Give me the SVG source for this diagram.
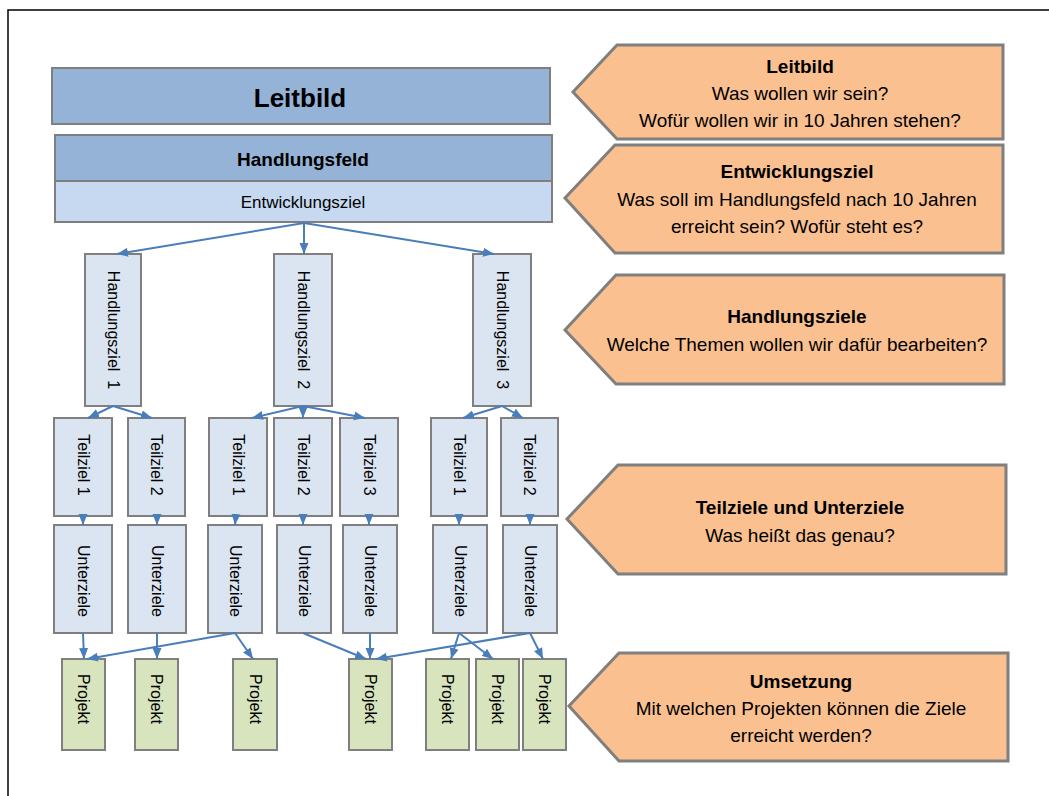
<svg xmlns="http://www.w3.org/2000/svg" width="1049" height="796" viewBox="0 0 1049 796">
<style>
text{font-family:"Liberation Sans",Arial,sans-serif;fill:#000}
.b{stroke:#7f7f7f;stroke-width:2}
.dark{fill:#95b3d7}
.mid{fill:#c6d9f1}
.lt{fill:#dbe5f1}
.pr{fill:#d7e4bd}
.tag{fill:#fac090;stroke:#7f7f7f;stroke-width:3;stroke-linejoin:miter}
.vt{font-size:16px;text-anchor:middle;dominant-baseline:central}
.t{font-size:19px;text-anchor:middle}
.bold{font-weight:bold}
#connectors line{stroke:#4a7ebb;stroke-width:2;marker-end:url(#ah)}
</style>
<defs>
<marker id="ah" markerUnits="userSpaceOnUse" markerWidth="12" markerHeight="10" refX="11" refY="5" orient="auto">
<path d="M0,0.5 L11,5 L0,9.5 z" fill="#4a7ebb"/>
</marker>
</defs>
<rect width="1049" height="796" fill="#fff"/>
<path d="M8,796 V10 H1049" fill="none" stroke="#000" stroke-width="1.5"/>

<g id="leitbild">
<rect class="b dark" x="52" y="68" width="498" height="56"/>
<text x="300" y="107" font-size="26" font-weight="bold" text-anchor="middle">Leitbild</text>
</g>
<g id="handlungsfeld">
<rect class="b dark" x="55" y="135" width="497" height="46"/>
<text x="303" y="166" font-size="19" font-weight="bold" text-anchor="middle">Handlungsfeld</text>
</g>
<g id="entwicklungsziel">
<rect class="b mid" x="55" y="181" width="497" height="41"/>
<text x="303" y="208" font-size="17" text-anchor="middle">Entwicklungsziel</text>
</g>

<g id="hz1"><rect class="b lt" x="85" y="254" width="56" height="152"/><text class="vt" font-size="17" xml:space="preserve" transform="translate(113,330) rotate(90)">Handlungsziel  1</text></g>
<g id="hz2"><rect class="b lt" x="274" y="254" width="58" height="152"/><text class="vt" font-size="17" xml:space="preserve" transform="translate(303,330) rotate(90)">Handlungsziel  2</text></g>
<g id="hz3"><rect class="b lt" x="473" y="254" width="58" height="152"/><text class="vt" font-size="17" xml:space="preserve" transform="translate(502,330) rotate(90)">Handlungsziel  3</text></g>

<g id="t11"><rect class="b lt" x="54" y="418" width="58" height="98"/><text class="vt" transform="translate(83,465) rotate(90)">Teilziel 1</text></g>
<g id="t12"><rect class="b lt" x="128" y="418" width="57" height="98"/><text class="vt" transform="translate(156.5,465) rotate(90)">Teilziel 2</text></g>
<g id="t21"><rect class="b lt" x="209" y="418" width="58" height="98"/><text class="vt" transform="translate(238,465) rotate(90)">Teilziel 1</text></g>
<g id="t22"><rect class="b lt" x="274" y="418" width="58" height="98"/><text class="vt" transform="translate(303,465) rotate(90)">Teilziel 2</text></g>
<g id="t23"><rect class="b lt" x="340" y="418" width="58" height="98"/><text class="vt" transform="translate(369,465) rotate(90)">Teilziel 3</text></g>
<g id="t31"><rect class="b lt" x="431" y="418" width="56" height="98"/><text class="vt" transform="translate(459,465) rotate(90)">Teilziel 1</text></g>
<g id="t32"><rect class="b lt" x="501" y="418" width="57" height="98"/><text class="vt" transform="translate(529.5,465) rotate(90)">Teilziel 2</text></g>

<g id="u11"><rect class="b lt" x="54" y="525" width="58" height="108"/><text class="vt" font-size="18" transform="translate(83,581) rotate(90)">Unterziele</text></g>
<g id="u12"><rect class="b lt" x="128" y="525" width="58" height="108"/><text class="vt" font-size="18" transform="translate(157,581) rotate(90)">Unterziele</text></g>
<g id="u21"><rect class="b lt" x="208" y="525" width="54" height="108"/><text class="vt" font-size="18" transform="translate(235,581) rotate(90)">Unterziele</text></g>
<g id="u22"><rect class="b lt" x="277" y="525" width="54" height="108"/><text class="vt" font-size="18" transform="translate(304,581) rotate(90)">Unterziele</text></g>
<g id="u23"><rect class="b lt" x="343" y="525" width="54" height="108"/><text class="vt" font-size="18" transform="translate(370,581) rotate(90)">Unterziele</text></g>
<g id="u31"><rect class="b lt" x="433" y="525" width="54" height="108"/><text class="vt" font-size="18" transform="translate(460,581) rotate(90)">Unterziele</text></g>
<g id="u32"><rect class="b lt" x="503" y="525" width="54" height="108"/><text class="vt" font-size="18" transform="translate(530,581) rotate(90)">Unterziele</text></g>

<g id="p1"><rect class="b pr" x="62" y="659" width="43" height="91"/><text class="vt" font-size="16.5" transform="translate(83.5,699) rotate(90)">Projekt</text></g>
<g id="p2"><rect class="b pr" x="135" y="659" width="43" height="91"/><text class="vt" font-size="16.5" transform="translate(156.5,699) rotate(90)">Projekt</text></g>
<g id="p3"><rect class="b pr" x="233" y="659" width="44" height="91"/><text class="vt" font-size="16.5" transform="translate(255,699) rotate(90)">Projekt</text></g>
<g id="p4"><rect class="b pr" x="349" y="659" width="43" height="91"/><text class="vt" font-size="16.5" transform="translate(370.5,699) rotate(90)">Projekt</text></g>
<g id="p5"><rect class="b pr" x="426" y="659" width="43" height="91"/><text class="vt" font-size="16.5" transform="translate(447.5,699) rotate(90)">Projekt</text></g>
<g id="p6"><rect class="b pr" x="476" y="659" width="43" height="91"/><text class="vt" font-size="16.5" transform="translate(497.5,699) rotate(90)">Projekt</text></g>
<g id="p7"><rect class="b pr" x="523" y="659" width="43" height="91"/><text class="vt" font-size="16.5" transform="translate(544.5,699) rotate(90)">Projekt</text></g>

<g id="connectors">
<line x1="304" y1="223" x2="117" y2="254"/>
<line x1="304" y1="223" x2="304" y2="254"/>
<line x1="304" y1="223" x2="494" y2="254"/>
<line x1="113" y1="406" x2="88" y2="418"/>
<line x1="113" y1="406" x2="152" y2="418"/>
<line x1="303" y1="406" x2="252" y2="418"/>
<line x1="303" y1="406" x2="303" y2="418"/>
<line x1="303" y1="406" x2="365" y2="418"/>
<line x1="502" y1="406" x2="463" y2="418"/>
<line x1="502" y1="406" x2="523" y2="418"/>
<line x1="83" y1="514" x2="83" y2="525"/>
<line x1="157" y1="514" x2="157" y2="525"/>
<line x1="236" y1="514" x2="235" y2="525"/>
<line x1="303" y1="514" x2="303" y2="525"/>
<line x1="369" y1="514" x2="369" y2="525"/>
<line x1="459" y1="514" x2="459" y2="525"/>
<line x1="530" y1="514" x2="530" y2="525"/>
<line x1="83" y1="633" x2="84" y2="659"/>
<line x1="157" y1="633" x2="157" y2="659"/>
<line x1="235" y1="633" x2="87" y2="659"/>
<line x1="235" y1="633" x2="253" y2="659"/>
<line x1="303" y1="633" x2="366" y2="659"/>
<line x1="370" y1="633" x2="370" y2="659"/>
<line x1="459" y1="633" x2="451" y2="659"/>
<line x1="459" y1="633" x2="493" y2="659"/>
<line x1="530" y1="633" x2="376" y2="659"/>
<line x1="530" y1="633" x2="543" y2="659"/>
</g>

<g id="tag-leitbild">
<polygon class="tag" points="617,45 1003,45 1003,139 617,139 573,92"/>
<text class="t bold" x="800" y="73">Leitbild</text>
<text class="t" x="800" y="100">Was wollen wir sein?</text>
<text class="t" x="800" y="127">Wofür wollen wir in 10 Jahren stehen?</text>
</g>
<g id="tag-entwicklungsziel">
<polygon class="tag" points="615,145 1003,145 1003,253 615,253 565,198"/>
<text class="t bold" x="797" y="178">Entwicklungsziel</text>
<text class="t" x="797" y="206">Was soll im Handlungsfeld nach 10 Jahren</text>
<text class="t" x="797" y="233">erreicht sein? Wofür steht es?</text>
</g>
<g id="tag-handlungsziele">
<polygon class="tag" points="616,275 1004,275 1004,384 616,384 565,330"/>
<text class="t bold" x="797" y="323">Handlungsziele</text>
<text class="t" x="797" y="351">Welche Themen wollen wir dafür bearbeiten?</text>
</g>
<g id="tag-teilziele">
<polygon class="tag" points="618,465 1006,465 1006,574 618,574 567,519"/>
<text class="t bold" x="800" y="514">Teilziele und Unterziele</text>
<text class="t" x="800" y="542">Was heißt das genau?</text>
</g>
<g id="tag-umsetzung">
<polygon class="tag" points="619,653 1008,653 1008,761 619,761 569,706"/>
<text class="t bold" x="801" y="688">Umsetzung</text>
<text class="t" x="801" y="715">Mit welchen Projekten können die Ziele</text>
<text class="t" x="801" y="742">erreicht werden?</text>
</g>
</svg>
